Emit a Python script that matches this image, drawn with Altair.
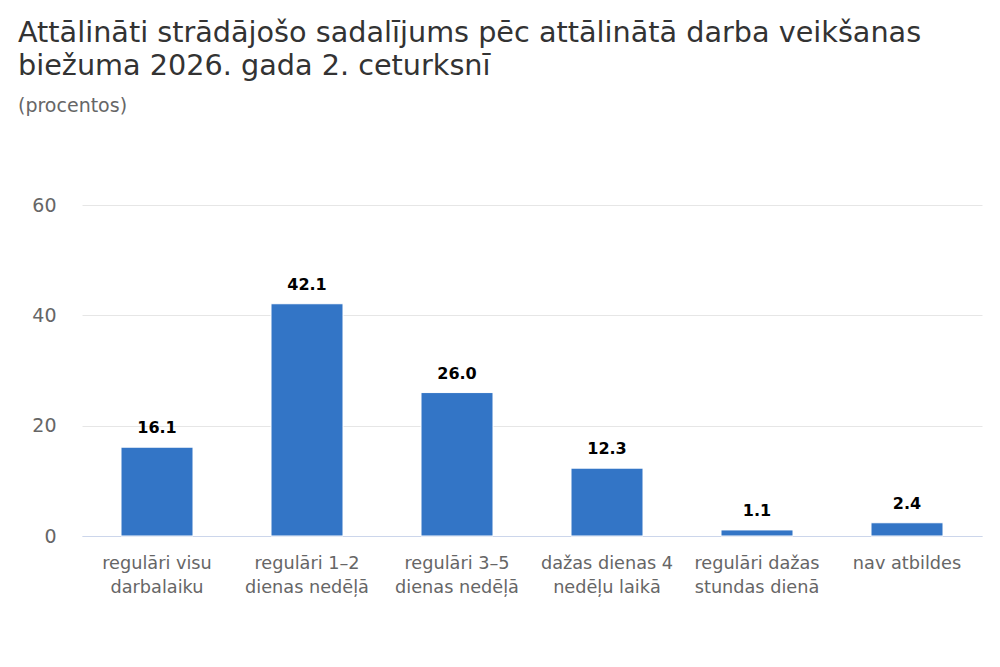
import altair as alt
import pandas as pd

categories = [
    "regulāri visu\ndarbalaiku",
    "regulāri 1–2\ndienas nedēļā",
    "regulāri 3–5\ndienas nedēļā",
    "dažas dienas 4\nnedēļu laikā",
    "regulāri dažas\nstundas dienā",
    "nav atbildes",
]
values = [16.1, 42.1, 26.0, 12.3, 1.1, 2.4]

title_lines = [
    "Attālināti strādājošo sadalījums pēc attālinātā darba veikšanas",
    "biežuma 2026. gada 2. ceturksnī",
]
subtitle = "(procentos)"

df = pd.DataFrame({"cat": categories, "val": values})

x = alt.X(
    "cat:N",
    sort=categories,
    title=None,
    scale=alt.Scale(paddingInner=0.52, paddingOuter=0.26),
    axis=alt.Axis(
        labelAngle=0,
        labelExpr="split(datum.label, '\\n')",
        labelFont="DejaVu Sans",
        labelFontSize=17.7,
        labelColor="#666666",
        labelLineHeight=24,
        labelPadding=18,
        ticks=False,
        domainColor="#ccd6eb",
        domainWidth=1,
        grid=False,
    ),
)
y = alt.Y(
    "val:Q",
    title=None,
    scale=alt.Scale(domain=[0, 60]),
    axis=alt.Axis(
        values=[0, 20, 40, 60],
        labelFont="DejaVu Sans",
        labelFontSize=19,
        labelColor="#666666",
        labelPadding=26,
        ticks=False,
        domain=False,
        gridColor="#e6e6e6",
        gridWidth=1,
    ),
)

bars = alt.Chart(df).mark_bar(color="#3375c6", stroke="#ffffff", strokeWidth=1).encode(x=x, y=y)
labels = alt.Chart(df).mark_text(
    dy=-11, baseline="bottom", font="DejaVu Sans", fontSize=16, fontWeight="bold", color="#000000"
).encode(x=x, y=y, text=alt.Text("val:Q", format=".1f"))

chart = (
    alt.layer(bars, labels)
    .properties(
        width=900,
        height=331,
        autosize=alt.AutoSizeParams(type="none"),
        padding={"left": 74, "top": 197, "right": 10, "bottom": 90},
        title=alt.TitleParams(
            text=title_lines,
            subtitle=subtitle,
            anchor="start",
            frame="group",
            dx=-64,
            font="DejaVu Sans",
            fontSize=28.7,
            fontWeight="normal",
            color="#333333",
            lineHeight=33,
            subtitleFont="DejaVu Sans",
            subtitleFontSize=19,
            subtitleColor="#666666",
            subtitlePadding=16,
            offset=80,
        ),
    )
    .configure_view(stroke=None)
)

chart.save("out.html", embed_options={"renderer": "svg", "actions": False})
